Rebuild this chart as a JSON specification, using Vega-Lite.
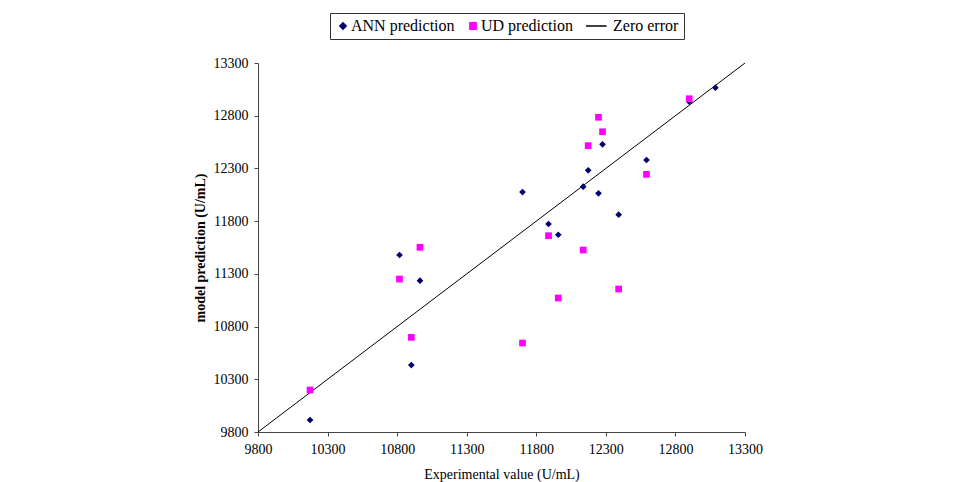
{
  "$schema": "https://vega.github.io/schema/vega-lite/v6.json",
  "width": 487,
  "height": 369,
  "autosize": {"type": "none"},
  "padding": {"left": 258, "top": 63, "right": 224, "bottom": 50},
  "background": "white",
  "config": {
    "view": {"stroke": null},
    "font": "Liberation Serif",
    "axis": {"labelFont": "Liberation Serif", "titleFont": "Liberation Serif", "labelFontSize": 14, "titleFontSize": 14, "labelColor": "black", "titleColor": "black", "domainColor": "#444", "tickColor": "#444", "grid": false, "tickSize": 4}
  },
  "datasets": {
    "pts": [
      {"experimental": 10174, "prediction": 9914, "series": "ANN prediction"},
      {"experimental": 10817, "prediction": 11479, "series": "ANN prediction"},
      {"experimental": 10902, "prediction": 10435, "series": "ANN prediction"},
      {"experimental": 10964, "prediction": 11235, "series": "ANN prediction"},
      {"experimental": 11701, "prediction": 12076, "series": "ANN prediction"},
      {"experimental": 11888, "prediction": 11773, "series": "ANN prediction"},
      {"experimental": 11958, "prediction": 11671, "series": "ANN prediction"},
      {"experimental": 12137, "prediction": 12127, "series": "ANN prediction"},
      {"experimental": 12173, "prediction": 12282, "series": "ANN prediction"},
      {"experimental": 12247, "prediction": 12064, "series": "ANN prediction"},
      {"experimental": 12276, "prediction": 12529, "series": "ANN prediction"},
      {"experimental": 12392, "prediction": 11861, "series": "ANN prediction"},
      {"experimental": 12592, "prediction": 12380, "series": "ANN prediction"},
      {"experimental": 12899, "prediction": 12933, "series": "ANN prediction"},
      {"experimental": 13087, "prediction": 13066, "series": "ANN prediction"},
      {"experimental": 10174, "prediction": 10198, "series": "UD prediction"},
      {"experimental": 10817, "prediction": 11251, "series": "UD prediction"},
      {"experimental": 10902, "prediction": 10698, "series": "UD prediction"},
      {"experimental": 10964, "prediction": 11552, "series": "UD prediction"},
      {"experimental": 11701, "prediction": 10644, "series": "UD prediction"},
      {"experimental": 11888, "prediction": 11662, "series": "UD prediction"},
      {"experimental": 11958, "prediction": 11071, "series": "UD prediction"},
      {"experimental": 12137, "prediction": 11526, "series": "UD prediction"},
      {"experimental": 12173, "prediction": 12516, "series": "UD prediction"},
      {"experimental": 12247, "prediction": 12785, "series": "UD prediction"},
      {"experimental": 12276, "prediction": 12648, "series": "UD prediction"},
      {"experimental": 12392, "prediction": 11156, "series": "UD prediction"},
      {"experimental": 12592, "prediction": 12244, "series": "UD prediction"},
      {"experimental": 12899, "prediction": 12961, "series": "UD prediction"}
    ],
    "line": [
      {"experimental": 9800, "prediction": 9800, "series": "Zero error"},
      {"experimental": 13300, "prediction": 13300, "series": "Zero error"}
    ]
  },
  "layer": [
    {
      "data": {"name": "line"},
      "mark": {"type": "line", "strokeWidth": 1, "clip": true},
      "encoding": {
        "x": {"field": "experimental", "type": "quantitative"},
        "y": {"field": "prediction", "type": "quantitative"},
        "color": {"field": "series", "type": "nominal"}
      }
    },
    {
      "data": {"name": "pts"},
      "mark": {"type": "point", "filled": true, "opacity": 1},
      "encoding": {
        "x": {
          "field": "experimental", "type": "quantitative",
          "scale": {"domain": [9800, 13300], "nice": false, "zero": false},
          "axis": {"values": [9800, 10300, 10800, 11300, 11800, 12300, 12800, 13300], "format": "d", "title": "Experimental value (U/mL)", "titleFontWeight": "normal", "labelPadding": 6, "titlePadding": 11, "labelFlush": false}
        },
        "y": {
          "field": "prediction", "type": "quantitative",
          "scale": {"domain": [9800, 13300], "nice": false, "zero": false},
          "axis": {"values": [9800, 10300, 10800, 11300, 11800, 12300, 12800, 13300], "format": "d", "title": "model prediction (U/mL)", "titleFontWeight": "bold", "labelPadding": 6, "titlePadding": 6, "labelFlush": false}
        },
        "color": {
          "field": "series", "type": "nominal",
          "scale": {"domain": ["ANN prediction", "UD prediction", "Zero error"], "range": ["#000070", "#ff00ff", "#000000"]},
          "legend": {
            "title": null,
            "orient": "none",
            "legendX": 72,
            "legendY": -50,
            "direction": "horizontal",
            "columns": 3,
            "strokeColor": "#333",
            "padding": 5,
            "labelFont": "Liberation Serif",
            "labelFontSize": 16,
            "labelColor": "black",
            "symbolSize": 40,
            "columnPadding": 10,
            "labelOffset": 0,
            "encode": {"symbols": {"update": {
              "stroke": {"signal": "datum.label == 'Zero error' ? 'black' : 'transparent'"},
              "strokeWidth": {"value": 1}
            }}}
          }
        },
        "shape": {
          "field": "series", "type": "nominal",
          "scale": {"domain": ["ANN prediction", "UD prediction", "Zero error"], "range": ["diamond", "square", "M-6,0H0.5"]},
          "legend": {"title": null}
        },
        "size": {"value": 45}
      }
    }
  ]
}
